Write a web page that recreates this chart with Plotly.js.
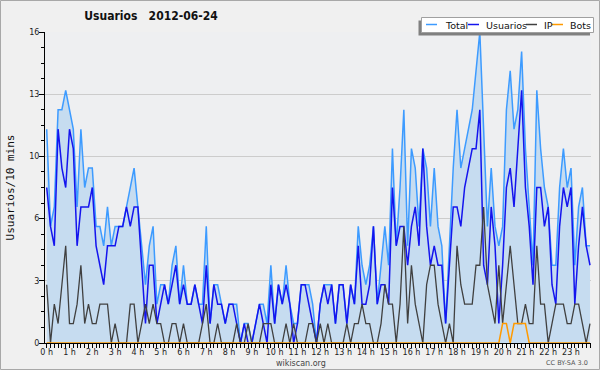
<!DOCTYPE html>
<html><head><meta charset="utf-8">
<script src="https://cdn.plot.ly/plotly-3.0.1.min.js"></script>
<style>html,body{margin:0;padding:0;background:#f0f0f0;} #chart{width:600px;height:370px;}</style>
</head><body><div id="chart"></div>
<script>
// 10-minute slots, 2012-06-24 (144 slots)
const total = [11,6,7,12,12,13,12,11,7,11,8,9,9,6,6,5,7,5,6,6,6,7,8,9,7,5,3,5,6,2,3,3,2,4,5,2,4,2,2,3,2,2,6,1,3,3,2,1,2,2,2,0,1,1,0,1,2,2,1,4,1,3,2,4,2,1,1,3,3,3,2,0,2,3,3,3,1,3,3,1,3,2,6,4,3,4,6,2,4,6,4,10,5,8,12,5,10,9,6,10,9,6,9,6,5,1,5,9,12,9,10,11,12,14,16,11,6,9,6,5,6,12,14,11,12,15,10,7,4,13,10,8,7,4,4,8,10,8,9,4,7,8,5,5];
const usuarios = [8,6,5,11,9,8,11,10,5,7,7,7,8,5,4,3,5,5,5,6,6,7,6,7,7,4,1,4,4,1,2,3,2,3,4,2,3,2,2,3,2,1,4,1,3,2,2,1,2,2,1,0,1,0,0,1,2,1,0,3,1,3,2,3,2,0,1,3,3,2,1,0,2,3,2,3,1,3,3,1,3,2,5,2,2,3,6,2,3,3,2,8,5,6,6,4,6,7,5,10,6,4,5,4,4,1,4,7,7,6,8,9,10,10,12,4,3,7,5,1,4,8,9,7,10,13,8,6,3,8,8,6,7,3,2,6,8,7,8,2,5,7,5,4];
const ip = [3,0,2,1,3,5,1,1,2,4,1,2,1,1,2,2,2,0,1,0,0,0,2,2,0,1,2,1,2,1,1,0,0,1,1,0,1,0,0,0,0,1,2,0,0,1,0,0,0,0,1,0,0,1,0,0,0,1,1,1,0,0,0,1,0,1,0,0,0,1,1,0,1,0,1,0,0,0,0,1,0,1,1,2,1,1,0,0,1,3,2,2,0,2,6,1,4,2,1,0,3,4,4,2,1,0,1,0,5,3,2,2,2,4,4,7,3,2,1,4,1,3,5,3,1,1,2,1,1,5,2,2,0,1,2,2,2,1,1,2,2,1,0,1];
const bots = [0,0,0,0,0,0,0,0,0,0,0,0,0,0,0,0,0,0,0,0,0,0,0,0,0,0,0,0,0,0,0,0,0,0,0,0,0,0,0,0,0,0,0,0,0,0,0,0,0,0,0,0,0,0,0,0,0,0,0,0,0,0,0,0,0,0,0,0,0,0,0,0,0,0,0,0,0,0,0,0,0,0,0,0,0,0,0,0,0,0,0,0,0,0,0,0,0,0,0,0,0,0,0,0,0,0,0,0,0,0,0,0,0,0,0,0,0,0,0,0,1,1,0,1,1,1,1,0,0,0,0,0,0,0,0,0,0,0,0,0,0,0,0,0];
const hourLabels = ["0 h","1 h","2 h","3 h","4 h","5 h","6 h","7 h","8 h","9 h","10 h","11 h","12 h","13 h","14 h","15 h","16 h","17 h","18 h","19 h","20 h","21 h","22 h","23 h"];
const yTickVals = [0,3.2,6.4,9.6,12.8,16];
const yTickText = ["0","3","6","10","13","16"];
const seriesNames = ["Total","Usuarios","IP","Bots"];
const seriesColors = ["#3d9bff","#1414ee","#404040","#ff9a00"];

const slotsPerHour = 6;
const xs = total.map((_, i) => i / slotsPerHour);
const hourVals = hourLabels.map((_, h) => h);

const W = 600, H = 370, L = 45, R = 9, T = 32, B = 27;
const pw = W - L - R, ph = H - T - B;
const px = v => (v - L) / pw;
const py = v => (H - B - v) / ph;

const data = [
  {x: xs, y: total, name: seriesNames[0], mode: "lines", fill: "tozeroy", fillcolor: "#c6dcf0", line: {color: seriesColors[0], width: 1.5}},
  {x: xs, y: usuarios, name: seriesNames[1], mode: "lines", line: {color: seriesColors[1], width: 1.5}},
  {x: xs, y: ip, name: seriesNames[2], mode: "lines", line: {color: seriesColors[2], width: 1.3}},
  {x: xs, y: bots, name: seriesNames[3], mode: "lines", line: {color: seriesColors[3], width: 1.5}}
];

const font = "DejaVu Sans";
const shapes = [
  {type: "rect", xref: "paper", yref: "paper", x0: px(0.5), x1: px(599.5), y0: py(0.5), y1: py(369.5), line: {color: "#a8a8a8", width: 1}, fillcolor: "rgba(0,0,0,0)"},
  {type: "rect", xref: "paper", yref: "paper", x0: px(418.5), x1: px(590), y0: py(20.5), y1: py(35.5), line: {width: 0}, fillcolor: "#808080"},
  {type: "rect", xref: "paper", yref: "paper", x0: px(421.5), x1: px(593.5), y0: py(17.5), y1: py(32.5), line: {color: "#a0a0a0", width: 1}, fillcolor: "#ffffff"}
];
const legendItems = [[426, 443], [468, 484], [526, 542], [552, 568]];
const annotations = [];
legendItems.forEach(([lx, tx], k) => {
  shapes.push({type: "line", xref: "paper", yref: "paper", x0: px(lx), x1: px(lx + 11), y0: py(24.5), y1: py(24.5), line: {color: seriesColors[k], width: 1.5}});
  annotations.push({xref: "paper", yref: "paper", x: px(tx), y: py(25), xanchor: "left", yanchor: "middle", text: seriesNames[k], showarrow: false, font: {family: font, size: 9.5, color: "#111"}});
});
annotations.push({xref: "paper", yref: "paper", x: px(301), y: py(363), xanchor: "center", yanchor: "middle", text: "wikiscan.org", showarrow: false, font: {family: font, size: 8, color: "#444"}});
annotations.push({xref: "paper", yref: "paper", x: px(590), y: py(363), xanchor: "right", yanchor: "middle", text: "CC BY-SA 3.0", showarrow: false, font: {family: font, size: 6.5, color: "#555"}});

const layout = {
  width: W, height: H,
  margin: {l: L, r: R, t: T, b: B, pad: 0},
  paper_bgcolor: "#f0f0f0", plot_bgcolor: "#eeeff1",
  showlegend: false,
  title: {text: "Usuarios\u00a0\u00a0 2012-06-24", x: 151 / W, xanchor: "center", y: 1 - 16 / H, yanchor: "middle", font: {family: "DejaVu Sans Condensed, DejaVu Sans", size: 12, weight: "bold", color: "#111"}},
  xaxis: {
    range: [-0.0746, 23.877], tickmode: "array", tickvals: hourVals, ticktext: hourLabels,
    ticks: "outside", ticklen: 4, tickcolor: "#000", tickwidth: 1, ticklabelstandoff: -3,
    minor: {tickmode: "linear", tick0: 0, dtick: 1 / slotsPerHour, ticks: "outside", ticklen: 4, tickcolor: "#000", showgrid: false},
    showgrid: false, zeroline: false, showline: true, linecolor: "#000", linewidth: 1,
    tickfont: {family: font, size: 8, color: "#222"}, fixedrange: true
  },
  yaxis: {
    range: [0, 16], tickmode: "array", tickvals: yTickVals, ticktext: yTickText,
    ticks: "outside", ticklen: 5, tickcolor: "#000", ticklabelstandoff: -2,
    minor: {tickmode: "linear", tick0: 0, dtick: 0.8, ticks: "outside", ticklen: 3, tickcolor: "#000", showgrid: false},
    showgrid: true, gridcolor: "#cccccc", gridwidth: 1, zeroline: false, showline: true, linecolor: "#000", linewidth: 1,
    tickfont: {family: font, size: 8, color: "#222"},
    title: {text: "Usuarios/10 mins", standoff: 12, font: {family: "DejaVu Sans Mono", size: 11, color: "#111"}},
    fixedrange: true
  },
  shapes: shapes,
  annotations: annotations
};

Plotly.newPlot("chart", data, layout, {staticPlot: true, displayModeBar: false});
</script></body></html>
